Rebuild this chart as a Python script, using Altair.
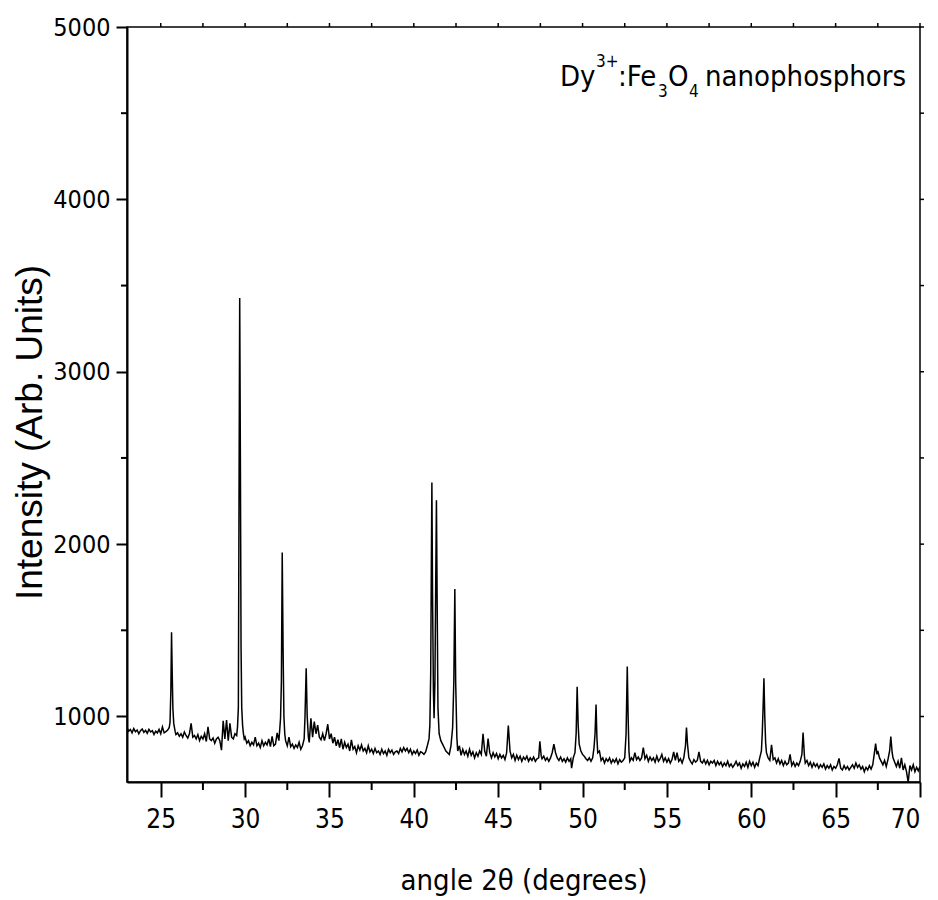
import altair as alt
import pandas as pd

# ---- XRD pattern (2theta in degrees, intensity in arb. units) ----
seg_a = [(23.0,935),(23.1,915),(23.2,925),(23.3,905),(23.4,930),(23.5,912),(23.6,922),(23.7,900),(23.8,918),(23.9,928),
         (24.0,908),(24.1,920),(24.2,902),(24.3,925),(24.4,910),(24.5,918),(24.6,896),(24.7,915),(24.8,905),(24.9,925),
         (25.0,900),(25.1,940),(25.2,905),(25.3,912),(25.4,920),(25.5,935),(25.55,965),(25.6,1150),(25.64,1489),(25.68,1250),
         (25.72,1046),(25.77,960),(25.85,915),(25.9,895),(26.0,905),(26.1,885),(26.2,900),(26.3,880),(26.4,910),(26.5,890),
         (26.6,875),(26.7,900),(26.8,960),(26.9,880),(27.0,890),(27.1,870),(27.2,895),(27.3,860),(27.4,885),(27.5,870),
         (27.6,900),(27.7,855),(27.8,940),(27.9,870),(28.0,860),(28.1,875),(28.2,845),(28.3,870),(28.4,880),(28.5,860),
         (28.6,805),(28.7,975),(28.8,870),(28.9,980),(29.0,860),(29.1,960),(29.2,880),(29.3,870),(29.4,900),(29.5,890)]
seg_b = [(29.55,940),(29.6,1050),(29.64,2300),(29.68,3428),(29.72,2500),(29.76,1400),(29.8,1050),(29.85,950),(29.9,900),(29.95,870),
         (30.0,880),(30.1,845),(30.2,860),(30.3,830),(30.4,850),(30.5,835),(30.6,880),(30.7,830),(30.8,845),(30.9,820),
         (31.0,860),(31.1,830),(31.2,850),(31.3,835),(31.4,870),(31.5,825),(31.6,885),(31.7,830),(31.8,840),(31.9,905),
         (32.0,860),(32.05,920),(32.1,990),(32.15,1200),(32.2,1952),(32.25,1400),(32.3,1000),(32.35,900),(32.4,860),(32.5,830),
         (32.6,880),(32.7,825),(32.8,840),(32.9,815),(33.0,835),(33.1,820),(33.2,850),(33.3,810),(33.4,830),(33.5,870),
         (33.55,1000),(33.62,1280),(33.68,1000),(33.75,880),(33.8,850)]
seg_c = [(33.9,990),(34.0,880),(34.1,970),(34.2,900),(34.3,950),(34.4,880),(34.5,865),(34.6,900),(34.7,860),(34.8,900),
         (34.9,955),(35.0,870),(35.1,900),(35.2,845),(35.3,880),(35.4,830),(35.5,865),(35.6,820),(35.7,870),(35.8,810),
         (35.9,850),(36.0,820),(36.1,840),(36.2,800),(36.3,865),(36.4,810),(36.5,825),(36.6,790),(36.7,830),(36.8,805),
         (36.9,835),(37.0,800),(37.1,815),(37.2,790),(37.3,830),(37.4,795),(37.5,810),(37.6,785),(37.7,815),(37.8,790),
         (37.9,800),(38.0,780),(38.1,810),(38.2,785),(38.3,800),(38.4,775),(38.5,810),(38.6,790),(38.7,805),(38.8,780),
         (38.9,795),(39.0,800),(39.1,785),(39.2,815),(39.3,795),(39.4,820),(39.5,800),(39.6,815),(39.7,790),(39.8,810),
         (39.9,780),(40.0,800),(40.1,785),(40.2,805),(40.3,775),(40.4,795),(40.5,790),(40.6,780),(40.7,795),(40.8,830)]
seg_d = [(40.9,870),(40.95,950),(41.0,1250),(41.04,1900),(41.07,2357),(41.11,1700),(41.16,1150),(41.2,990),(41.25,1200),(41.3,1800),
         (41.34,2254),(41.38,1700),(41.43,1050),(41.5,900),(41.6,860),(41.7,840),(41.8,820),(41.9,800),(42.0,790),(42.1,780),
         (42.2,830),(42.3,936),(42.37,1200),(42.43,1740),(42.48,1200),(42.55,880),(42.6,800),(42.7,830),(42.8,775),(42.9,810),
         (43.0,780),(43.1,800),(43.2,770),(43.3,810),(43.4,775),(43.5,795),(43.6,760),(43.7,790),(43.8,770),(43.9,800),
         (44.0,780),(44.1,900),(44.2,800),(44.3,770),(44.4,872),(44.5,790),(44.6,760),(44.7,790),(44.8,765),(44.9,785),
         (45.0,755),(45.1,780),(45.2,760),(45.3,775),(45.4,750),(45.5,790),(45.6,948),(45.7,800),(45.8,760),(45.9,780)]
seg_e = [(46.0,745),(46.1,775),(46.2,750),(46.3,770),(46.4,740),(46.5,765),(46.6,750),(46.7,770),(46.8,740),(46.9,760),
         (47.0,745),(47.1,765),(47.2,740),(47.3,755),(47.4,760),(47.47,856),(47.55,770),(47.6,755),(47.7,770),(47.8,745),
         (47.9,760),(48.0,740),(48.1,760),(48.2,790),(48.3,840),(48.4,790),(48.5,760),(48.6,745),(48.7,765),(48.8,740),
         (48.9,755),(49.0,735),(49.1,760),(49.2,740),(49.3,755),(49.35,700),(49.45,760),(49.55,790),(49.62,900),(49.68,1172),
         (49.74,950),(49.8,840),(49.9,800),(50.0,780),(50.1,770),(50.2,755),(50.3,745),(50.4,760),(50.5,740),(50.6,760),
         (50.68,820),(50.74,900),(50.8,1069),(50.85,880),(50.9,790),(51.0,800),(51.1,745),(51.2,760),(51.3,730),(51.4,755),
         (51.5,740),(51.6,760),(51.7,730),(51.8,750),(51.9,735),(52.0,755),(52.1,725),(52.2,750),(52.3,735),(52.4,745),
         (52.5,760),(52.58,900),(52.65,1290),(52.7,1000),(52.75,800),(52.8,740)]
seg_f = [(52.9,760),(53.0,745),(53.1,790),(53.2,750),(53.3,765),(53.4,745),(53.5,760),(53.6,820),(53.7,755),(53.8,775),
         (53.9,740),(54.0,765),(54.1,745),(54.2,760),(54.3,735),(54.4,770),(54.5,740),(54.6,755),(54.7,780),(54.8,740),
         (54.9,760),(55.0,735),(55.1,755),(55.2,730),(55.3,750),(55.4,795),(55.5,745),(55.6,790),(55.7,740),(55.8,755),
         (55.9,730),(56.0,760),(56.1,830),(56.16,936),(56.22,840),(56.3,760),(56.4,740),(56.5,725),(56.6,750),(56.7,735),
         (56.8,745),(56.9,795),(57.0,740),(57.1,730),(57.2,750),(57.3,725),(57.4,745),(57.5,720),(57.6,740),(57.7,730),
         (57.8,745),(57.9,715),(58.0,740),(58.1,720),(58.2,735),(58.3,710),(58.4,730),(58.5,715),(58.6,740),(58.7,710),
         (58.8,725),(58.9,705),(59.0,720),(59.1,740),(59.2,715),(59.3,730),(59.4,700),(59.5,725),(59.6,710),(59.7,735),
         (59.8,705),(59.9,740),(60.0,715),(60.1,735),(60.2,705),(60.3,730),(60.4,715),(60.5,760)]
seg_g = [(60.6,800),(60.65,900),(60.7,1050),(60.75,1222),(60.8,1000),(60.85,850),(60.9,790),(61.0,760),(61.1,745),(61.2,835),
         (61.3,750),(61.4,760),(61.5,730),(61.6,755),(61.7,725),(61.8,745),(61.9,715),(62.0,740),(62.1,720),(62.2,730),
         (62.3,780),(62.4,715),(62.5,735),(62.6,710),(62.7,730),(62.8,715),(62.9,740),(63.0,780),(63.07,907),(63.15,770),
         (63.2,730),(63.3,745),(63.4,715),(63.5,735),(63.6,705),(63.7,730),(63.8,710),(63.9,725),(64.0,700),(64.1,720),
         (64.2,705),(64.3,725),(64.4,695),(64.5,715),(64.6,700),(64.7,720),(64.8,690),(64.9,710),(65.0,700),(65.1,720),
         (65.2,757),(65.3,700),(65.4,690),(65.5,715),(65.6,695),(65.7,710),(65.8,690),(65.9,705),(66.0,720),(66.1,700),
         (66.2,730),(66.3,705),(66.4,720),(66.5,695),(66.6,710),(66.7,680),(66.8,705),(66.9,690),(67.0,715),(67.1,695),
         (67.2,720),(67.3,790),(67.37,843),(67.45,780),(67.5,800),(67.6,760),(67.7,740),(67.8,720),(67.9,745),(68.0,710),
         (68.1,750),(68.2,800),(68.27,884),(68.35,790),(68.4,760),(68.5,735),(68.6,710),(68.7,740),(68.8,700),(68.9,760),
         (69.0,690),(69.1,720),(69.2,680),(69.3,618),(69.4,715),(69.5,690),(69.6,720),(69.7,680),(69.8,705),(69.9,685),(70.0,710)]

x_major = [25, 30, 35, 40, 45, 50, 55, 60, 65, 70]
x_minor = [27.5, 32.5, 37.5, 42.5, 47.5, 52.5, 57.5, 62.5, 67.5]
y_major = [1000, 2000, 3000, 4000, 5000]
y_minor = [1500, 2500, 3500, 4500]

points = seg_a + seg_b + seg_c + seg_d + seg_e + seg_f + seg_g
df = pd.DataFrame(points, columns=["two_theta", "intensity"])

W, H = 793, 755
NARROW = "'Liberation Sans Narrow', 'Arial Narrow', 'DejaVu Sans Condensed', 'Roboto Condensed', Roboto, sans-serif"
REG = "'Liberation Sans', Arial, sans-serif"

xscale = alt.Scale(domain=[23, 70], nice=False, zero=False)
yscale = alt.Scale(domain=[620, 5000], nice=False, zero=False)

x_axis = alt.Axis(values=x_major, format="d", title="angle 2θ (degrees)",
                  grid=False, tickSize=15, tickWidth=2, tickColor="black",
                  domainWidth=2, domainColor="black",
                  labelFont=NARROW, labelFontSize=26, labelColor="black", labelPadding=9,
                  titleFont=NARROW, titleFontSize=29, titleFontWeight="normal", titleColor="black",
                  titleBaseline="alphabetic", titleY=107)
y_axis = alt.Axis(values=y_major, format="d", title="Intensity (Arb. Units)",
                  grid=False, tickSize=11, tickWidth=2, tickColor="black",
                  domainWidth=2, domainColor="black",
                  labelFont=NARROW, labelFontSize=25, labelColor="black", labelPadding=6,
                  titleFont=REG, titleFontSize=37, titleFontWeight="normal", titleColor="black",
                  titleBaseline="alphabetic", titleX=-86, titleY=405)

line = alt.Chart(df).mark_line(color="black", strokeWidth=1.5, clip=True).encode(
    x=alt.X("two_theta:Q", scale=xscale, axis=x_axis),
    y=alt.Y("intensity:Q", scale=yscale, axis=y_axis),
)

xmin_df = pd.DataFrame({"two_theta": x_minor})
xall_df = pd.DataFrame({"two_theta": x_major + x_minor})
ymin_df = pd.DataFrame({"intensity": y_minor})
yall_df = pd.DataFrame({"intensity": y_major + y_minor})

bottom_minor = alt.Chart(xmin_df).mark_rule(color="black", strokeWidth=2).encode(
    x=alt.X("two_theta:Q", scale=xscale, axis=x_axis), y=alt.value(H), y2=alt.value(H + 8))
left_minor = alt.Chart(ymin_df).mark_rule(color="black", strokeWidth=2).encode(
    y=alt.Y("intensity:Q", scale=yscale, axis=y_axis), x=alt.value(-6), x2=alt.value(0))
top_ticks = alt.Chart(xall_df).mark_rule(color="black", strokeWidth=1.5).encode(
    x=alt.X("two_theta:Q", scale=xscale, axis=x_axis), y=alt.value(-4), y2=alt.value(0))
right_ticks = alt.Chart(yall_df).mark_rule(color="black", strokeWidth=1.5).encode(
    y=alt.Y("intensity:Q", scale=yscale, axis=y_axis), x=alt.value(W), x2=alt.value(W + 4))

one = pd.DataFrame({"k": [0]})


def piece(text, px, py, size):
    return alt.Chart(one).mark_text(text=text, align="left", baseline="alphabetic",
                                    font=NARROW, fontSize=size, color="black").encode(
        x=alt.value(px), y=alt.value(py))


label = [
    piece("Dy", 433, 59, 29),
    piece("3+", 469, 40, 17),
    piece(":Fe", 491, 59, 29),
    piece("3", 531, 70, 17),
    piece("O", 541, 59, 29),
    piece("4", 562, 70, 17),
    piece("nanophosphors", 578, 59, 29),
]

chart = alt.layer(line, bottom_minor, left_minor, top_ticks, right_ticks, *label).properties(
    width=W, height=H,
    autosize=alt.AutoSizeParams(type="none"),
    padding={"left": 127, "top": 27, "right": 18, "bottom": 118},
).configure_view(stroke="black", strokeWidth=1.5)

chart.save("out.html", embed_options={"renderer": "svg", "actions": False})
